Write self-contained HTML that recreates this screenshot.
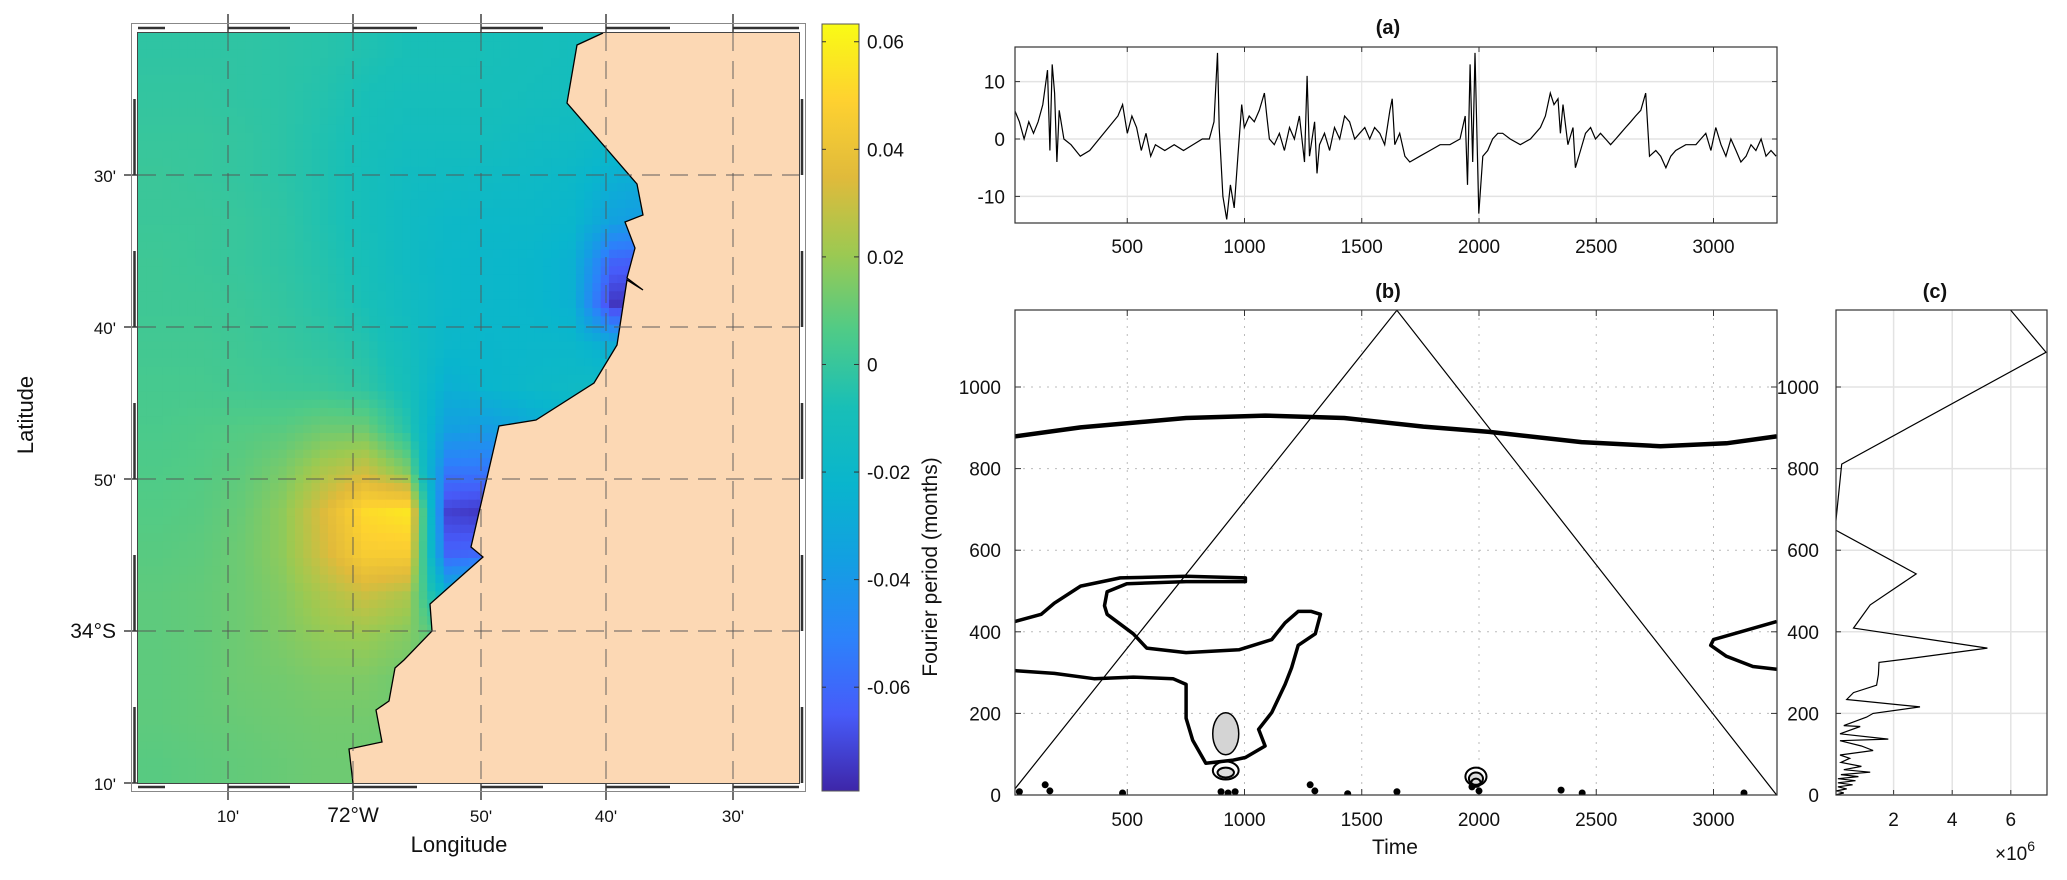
<!DOCTYPE html>
<html><head><meta charset="utf-8"><style>
html,body{margin:0;padding:0;background:#fff;}
svg{display:block;font-family:"Liberation Sans",sans-serif;}
</style></head><body>
<svg id="fig" width="2067" height="880" viewBox="0 0 2067 880" xmlns="http://www.w3.org/2000/svg">
<defs>
<clipPath id="mapclip"><rect x="138" y="33" width="661" height="750"/></clipPath>
<clipPath id="aclip"><rect x="1015" y="47" width="762" height="176"/></clipPath>
<clipPath id="bclip"><rect x="1015" y="310" width="762" height="485"/></clipPath>
<clipPath id="cclip"><rect x="1836" y="310" width="211" height="485"/></clipPath>
<linearGradient id="cbgrad" x1="0" y1="1" x2="0" y2="0"></linearGradient>
</defs>
<g id="map"></g>
<g id="cbar"></g>
<g id="pa"></g>
<g id="pb"></g>
<g id="pc"></g>
</svg>
<script>
// ---------- DATA ----------
const mapRows = [
[-2,-2,-2,-3,-4,-6,-8,-8,-9,-10,-11,-12,-12,0,0,0],
[-1,-1,-2,-3,-5,-8,-10,-10,-10,-11,-12,-14,-14,0,0,0],
[0,0,-1,-3,-6,-9,-12,-12,-12,-14,-15,-18,-18,0,0,0],
[1,0,-1,-3,-6,-10,-14,-15,-16,-17,-19,-26,-30,0,0,0],
[1,1,0,-2,-6,-10,-15,-18,-19,-19,-21,-35,-40,0,0,0],
[2,1,0,-2,-5,-9,-15,-19,-20,-21,-25,-62,-65,0,0,0],
[2,2,1,-1,-4,-8,-14,-19,-20,-21,-25,-75,-75,0,0,0],
[3,3,2,0,-2,-5,-12,-20,-21,-20,-20,-28,-28,0,0,0],
[4,4,3,2,1,-2,-10,-26,-22,-19,-17,-15,0,0,0,0],
[5,6,7,8,12,12,-4,-36,-38,-30,-25,0,0,0,0,0],
[6,7,9,14,24,30,15,-55,-55,-40,0,0,0,0,0,0],
[7,8,11,18,34,52,56,-72,-75,-60,0,0,0,0,0,0],
[8,9,12,18,32,46,46,-62,-60,0,0,0,0,0,0,0],
[9,10,12,16,24,30,24,-25,-10,0,0,0,0,0,0,0],
[9,10,12,15,19,20,16,5,0,0,0,0,0,0,0,0],
[9,10,12,13,15,15,12,8,0,0,0,0,0,0,0,0],
[9,10,11,12,13,13,12,10,0,0,0,0,0,0,0,0],
[8,9,10,11,12,12,10,8,0,0,0,0,0,0,0,0]];
const coastX = [603,577,567,637,643,625,635,627,643,627,617,594,536,499,471,483,466,430,432,404,395,389,376,382,349,353];
const coastY = [33,45,103,184,215,222,248,278,290,280,345,383,420,426,547,557,572,604,631,660,668,701,710,742,749,783];
const lonTicks = ["10'","72°W","50'","40'","30'"];
const latTicks = ["30'","40'","50'","34°S","10'"];
const cbTicks = [0.06,0.04,0.02,0,-0.02,-0.04,-0.06];
const cbLabels = ["0.06","0.04","0.02","0","-0.02","-0.04","-0.06"];
// Panel (a)
const tA = [0,20,40,60,80,100,120,140,160,170,180,190,200,210,230,260,300,340,380,420,460,480,500,520,540,560,580,600,620,660,700,740,780,820,850,870,885,892,908,924,940,956,972,988,999,1020,1042,1063,1085,1095,1106,1127,1149,1170,1192,1213,1234,1256,1267,1277,1299,1309,1320,1341,1363,1384,1406,1427,1448,1470,1491,1513,1534,1555,1577,1598,1620,1630,1641,1662,1684,1705,1748,1791,1834,1876,1919,1941,1951,1962,1973,1983,1999,2016,2037,2058,2080,2101,2133,2176,2219,2262,2283,2304,2320,2337,2347,2358,2379,2401,2411,2433,2454,2476,2497,2518,2540,2561,2583,2604,2625,2647,2668,2690,2711,2727,2754,2775,2797,2818,2839,2882,2925,2946,2967,2989,3010,3032,3053,3074,3096,3117,3139,3160,3181,3203,3224,3245,3267];
const vA = [0,5,3,0,3,1,3,6,12,-2,13,8,-4,5,0,-1,-3,-2,0,2,4,6,1,4,2,-2,1,-3,-1,-2,-1,-2,-1,0,0,3,15,2,-10,-14,-8,-12,-3,6,2,4,3,5,8,4,0,-1,1,-2,2,0,4,-4,11,-3,3,-6,-1,1,-2,2,0,4,3,0,1,2,0,2,1,-1,5,7,-1,1,-3,-4,-3,-2,-1,-1,0,4,-8,13,-4,15,-13,-3,-2,0,1,1,0,-1,0,2,4,8,6,7,1,6,-1,2,-5,-2,1,2,0,1,0,-1,0,1,2,3,4,5,8,-3,-2,-3,-5,-3,-2,-1,-1,0,1,-2,2,-1,-3,0,-2,-4,-3,-1,-2,0,-3,-2,-3];
const aXTicks = [500,1000,1500,2000,2500,3000];
const aYTicks = [10,0,-10];
// Panel (b)
const bXTicks = [500,1000,1500,2000,2500,3000];
const bYTicks = [0,200,400,600,800,1000];
const ridgeT = [20,301,751,1088,1425,1763,2044,2437,2774,3055,3269];
const ridgeP = [879,901,924,930,924,903,890,865,855,862,879];
const mainT = [20,133,189,301,470,751,1004,1004,751,498,414,403,414,526,583,751,976,1116,1173,1229,1285,1324,1302,1229,1201,1173,1116,1060,1088,1004,948,835,779,751,751,695,526,358,189,20];
const mainP = [425,443,470,512,532,536,532,523,523,518,498,464,443,395,360,349,356,381,422,450,450,443,395,367,312,271,202,161,120,92,85,78,134,188,271,285,289,285,298,305];
const rightT = [3269,3000,2988,3055,3168,3269];
const rightP = [425,381,367,340,315,308];
const blobT = [920];
const blobP = [150];
const ringT = [920,920,1987,1987,1987];
const ringP = [60,55,45,40,30];
const ringRt = [55,35,45,30,20];
const ringRp = [22,12,22,15,10];
const dotT = [40,150,170,480,900,930,960,1280,1300,1440,1650,1970,2000,2350,2440,3130];
const dotP = [8,25,10,5,8,5,8,25,10,3,8,20,10,12,5,5];
const coneT = [0,1650,3269];
const coneP = [0,1188,0];
// Panel (c)
const cPeriod = [1188,1085,811,650,542,466,409,360,333,325,295,269,251,234,216,200,191,170,168,150,137,133,120,109,98,90,80,70,62,56,50,45,40,35,30,25,20,15,10,5,0];
const cPower = [6.0,7.2,0.23,0,2.77,1.2,0.63,5.2,2.4,1.5,1.48,1.42,0.63,0.4,2.9,1.3,1.08,0.3,0.86,0.17,1.82,0.17,0.9,1.3,0.17,0.5,0.2,0.9,0.3,1.2,0.2,0.8,0.1,0.7,0.1,0.6,0.1,0.4,0.05,0.3,0];
const cXTicks = [2,4,6];
const cYTicks = [0,200,400,600,800,1000];

// ---------- HELPERS ----------
const NS="http://www.w3.org/2000/svg";
function mk(tag, parent, attrs){const e=document.createElementNS(NS,tag);for(const k in attrs)e.setAttribute(k,attrs[k]);parent.appendChild(e);return e;}
const par=[[0,[0.2422,0.1504,0.6603]],[0.1,[0.278,0.3556,0.9777]],[0.2,[0.1707,0.512,0.9795]],[0.3,[0.0759,0.6238,0.8846]],[0.4,[0.0356,0.7114,0.8045]],[0.5,[0.0956,0.7507,0.7178]],[0.6,[0.31,0.7945,0.53]],[0.7,[0.61,0.79,0.32]],[0.8,[0.88,0.73,0.23]],[0.9,[0.995,0.82,0.19]],[1,[0.9769,0.9839,0.0805]]];
function parula(t){t=Math.max(0,Math.min(1,t));for(let i=1;i<par.length;i++){if(t<=par[i][0]){const a=par[i-1],b=par[i];const f=(t-a[0])/(b[0]-a[0]);const c=a[1].map((v,k)=>Math.round(255*(v+(b[1][k]-v)*f)));return `rgb(${c[0]},${c[1]},${c[2]})`;}}return "rgb(249,251,20)";}
const CMIN=-0.0793, CMAX=0.0633;

// ---------- MAP ----------
const map=document.getElementById('map');
const MX0=138,MX1=799,MY0=33,MY1=783;
const cellG=mk('g',map,{'clip-path':'url(#mapclip)'});
const nr=mapRows.length,nc=mapRows[0].length;
const cw=(MX1-MX0)/nc,ch=(MY1-MY0)/nr;
const SUB=5;
function sample(fi,fj){
  fi=Math.max(0,Math.min(nc-1,fi));fj=Math.max(0,Math.min(nr-1,fj));
  const i0=Math.floor(fi),j0=Math.floor(fj),i1=Math.min(nc-1,i0+1),j1=Math.min(nr-1,j0+1);
  const a=fi-i0,b=fj-j0;
  return (mapRows[j0][i0]*(1-a)+mapRows[j0][i1]*a)*(1-b)+(mapRows[j1][i0]*(1-a)+mapRows[j1][i1]*a)*b;
}
const sw=cw/SUB, sh=ch/SUB;
for(let j=0;j<nr*SUB;j++){for(let i=0;i<nc*SUB;i++){
  const v=sample((i+0.5)/SUB-0.5,(j+0.5)/SUB-0.5);
  const r=mk('rect',cellG,{x:(MX0+i*sw).toFixed(1),y:(MY0+j*sh).toFixed(1),width:(sw+0.6).toFixed(1),height:(sh+0.6).toFixed(1),fill:parula((v/1000-CMIN)/(CMAX-CMIN))});
  
  
}}
let lp=`M${MX1},${MY0} `;coastX.forEach((x,i)=>lp+=`L${x},${coastY[i]} `);lp+=`L${MX1},${MY1} Z`;
const land=mk('path',map,{d:lp,fill:'#fcd8b4'});

let cp='';coastX.forEach((x,i)=>cp+=(i?'L':'M')+x+','+coastY[i]+' ');
const coast=mk('path',map,{d:cp,fill:'none',stroke:'#000','stroke-width':1.3});

const lonX=[228,353,481,606,733], latY=[175,327,479,631,783];
lonX.forEach((x,i)=>{
  const g=mk('line',map,{x1:x,y1:MY0,x2:x,y2:MY1,stroke:'#555','stroke-opacity':0.75,'stroke-width':1.2,'stroke-dasharray':'18 10'});
  
  mk('line',map,{x1:x,y1:14,x2:x,y2:33,stroke:'#222','stroke-width':1.3});
  mk('line',map,{x1:x,y1:783,x2:x,y2:800,stroke:'#222','stroke-width':1.3});
  const t=mk('text',map,{x:x,y:822,'text-anchor':'middle','font-size':i==1?21:17,fill:'#111'});t.textContent=lonTicks[i];
  
});
latY.forEach((y,i)=>{
  if(i<4){const g=mk('line',map,{x1:MX0,y1:y,x2:MX1+10,y2:y,stroke:'#555','stroke-opacity':0.75,'stroke-width':1.2,'stroke-dasharray':'18 10'});
  }
  mk('line',map,{x1:124,y1:y,x2:138,y2:y,stroke:'#222','stroke-width':1.3});
  const t=mk('text',map,{x:116,y:y+7,'text-anchor':'end','font-size':i==3?21:17,fill:'#111'});t.textContent=latTicks[i];
  
});
mk('rect',map,{x:131.5,y:23.5,width:674,height:768,fill:'none',stroke:'#888','stroke-width':1});
mk('rect',map,{x:137.5,y:32.5,width:662,height:751,fill:'none',stroke:'#444','stroke-width':1});
const segX=[138,165,228,290,353,417,481,543,606,670,733,799];
for(let k=0;k<segX.length-1;k++){ if(k%2==0){
  mk('line',map,{x1:segX[k],y1:28,x2:segX[k+1],y2:28,stroke:'#333','stroke-width':2.5});
  mk('line',map,{x1:segX[k],y1:787,x2:segX[k+1],y2:787,stroke:'#333','stroke-width':2.5});}}
const segY=[33,99,175,251,327,403,479,555,631,707,783];
for(let k=0;k<segY.length-1;k++){ if(k%2==1){
  mk('line',map,{x1:134.5,y1:segY[k],x2:134.5,y2:segY[k+1],stroke:'#333','stroke-width':2.5});
  mk('line',map,{x1:802,y1:segY[k],x2:802,y2:segY[k+1],stroke:'#333','stroke-width':2.5});}}
const xl=mk('text',map,{x:459,y:852,'text-anchor':'middle','font-size':22,fill:'#111'});xl.textContent='Longitude';

const yl=mk('text',map,{x:0,y:0,'text-anchor':'middle','font-size':22,fill:'#111',transform:'translate(33,415) rotate(-90)'});yl.textContent='Latitude';


// ---------- COLORBAR ----------
const cb=document.getElementById('cbar');
const grad=document.getElementById('cbgrad');
for(let k=0;k<=20;k++){mk('stop',grad,{offset:k/20,'stop-color':parula(k/20)});}
const CBX=822,CBW=37,CBY0=24,CBY1=791;
const cbs=v=>CBY1-(v-CMIN)/(CMAX-CMIN)*(CBY1-CBY0);
mk('rect',cb,{x:CBX,y:CBY0,width:CBW,height:CBY1-CBY0,fill:'url(#cbgrad)',stroke:'#555','stroke-width':1});
cbTicks.forEach((v,i)=>{const y=cbs(v);
  mk('line',cb,{x1:CBX+CBW-5,y1:y,x2:CBX+CBW,y2:y,stroke:'#333'});
  mk('line',cb,{x1:CBX,y1:y,x2:CBX+4,y2:y,stroke:'#333'});
  const t=mk('text',cb,{x:CBX+CBW+8,y:y+7,'font-size':19,fill:'#111'});t.textContent=cbLabels[i];
  });

// ---------- PANEL A ----------
const pa=document.getElementById('pa');
const AX0=1015,AX1=1777,AY0=47,AY1=223;
const axA=t=>1010+(t)*0.2345, ayA=v=>139-v*5.74;
aXTicks.forEach(t=>{const x=axA(t);mk('line',pa,{x1:x,y1:AY0,x2:x,y2:AY1,stroke:'#e3e3e3'});
  mk('line',pa,{x1:x,y1:AY0,x2:x,y2:AY0+5,stroke:'#333'});mk('line',pa,{x1:x,y1:AY1,x2:x,y2:AY1-5,stroke:'#333'});
  const tt=mk('text',pa,{x:x,y:253,'text-anchor':'middle','font-size':19,fill:'#111'});tt.textContent=t;
  });
aYTicks.forEach(v=>{const y=ayA(v);mk('line',pa,{x1:AX0,y1:y,x2:AX1,y2:y,stroke:'#e3e3e3','stroke-width':1.5});
  mk('line',pa,{x1:AX0,y1:y,x2:AX0+5,y2:y,stroke:'#333'});mk('line',pa,{x1:AX1,y1:y,x2:AX1-5,y2:y,stroke:'#333'});
  const tt=mk('text',pa,{x:1005,y:y+7,'text-anchor':'end','font-size':19,fill:'#111'});tt.textContent=v;
  });
let ap='';tA.forEach((t,i)=>ap+=(i?'L':'M')+axA(t).toFixed(1)+','+ayA(vA[i]).toFixed(1)+' ');
const aline=mk('path',pa,{d:ap,fill:'none',stroke:'#000','stroke-width':1.2,'clip-path':'url(#aclip)'});

mk('rect',pa,{x:AX0,y:AY0,width:AX1-AX0,height:AY1-AY0,fill:'none',stroke:'#333','stroke-width':1.2});
const at=mk('text',pa,{x:1388,y:34,'text-anchor':'middle','font-size':20,'font-weight':'bold',fill:'#111'});at.textContent='(a)';


// ---------- PANEL B ----------
const pb=document.getElementById('pb');
const BX0=1015,BX1=1777,BY0=310,BY1=795;
const bx=t=>1010+t*0.2345, by=p=>795-p*0.408;
bXTicks.forEach(t=>{const x=bx(t);mk('line',pb,{x1:x,y1:BY0,x2:x,y2:BY1,stroke:'#bbb','stroke-dasharray':'2 6'});
  mk('line',pb,{x1:x,y1:BY0,x2:x,y2:BY0+6,stroke:'#333'});mk('line',pb,{x1:x,y1:BY1,x2:x,y2:BY1-6,stroke:'#333'});
  const tt=mk('text',pb,{x:x,y:826,'text-anchor':'middle','font-size':19,fill:'#111'});tt.textContent=t;
  });
bYTicks.forEach(p=>{const y=by(p);mk('line',pb,{x1:BX0,y1:y,x2:BX1,y2:y,stroke:'#bbb','stroke-dasharray':'2 6'});
  mk('line',pb,{x1:BX0,y1:y,x2:BX0+6,y2:y,stroke:'#333'});mk('line',pb,{x1:BX1,y1:y,x2:BX1-6,y2:y,stroke:'#333'});
  const tt=mk('text',pb,{x:1001,y:y+7,'text-anchor':'end','font-size':19,fill:'#111'});tt.textContent=p;
  });
const bg=mk('g',pb,{'clip-path':'url(#bclip)'});
function poly(T,P,close){let d='';T.forEach((t,i)=>d+=(i?'L':'M')+bx(t).toFixed(1)+','+by(P[i]).toFixed(1)+' ');return d+(close?'Z':'');}
const ridge=mk('path',bg,{d:poly(ridgeT,ridgeP),fill:'none',stroke:'#000','stroke-width':4.5,'stroke-linejoin':'round'});

const mc=mk('path',bg,{d:poly(mainT,mainP),fill:'none',stroke:'#000','stroke-width':3.5,'stroke-linejoin':'round'});

const rc=mk('path',bg,{d:poly(rightT,rightP),fill:'none',stroke:'#000','stroke-width':3.5,'stroke-linejoin':'round'});

blobT.forEach((t,i)=>{const e=mk('ellipse',bg,{cx:bx(t),cy:by(blobP[i]),rx:13,ry:21,fill:'#d4d4d4',stroke:'#000','stroke-width':1.5});
  });
ringT.forEach((t,i)=>{const e=mk('ellipse',bg,{cx:bx(t),cy:by(ringP[i]),rx:ringRt[i]*0.2345,ry:ringRp[i]*0.408,fill:i%2?'#ddd':'none',stroke:'#000','stroke-width':2});
  });
dotT.forEach((t,i)=>{const e=mk('ellipse',bg,{cx:bx(t),cy:by(dotP[i]),rx:3.5,ry:3.5,fill:'#000'});
  });
const cone=mk('path',bg,{d:poly(coneT,coneP),fill:'none',stroke:'#000','stroke-width':1.2});

mk('rect',pb,{x:BX0,y:BY0,width:BX1-BX0,height:BY1-BY0,fill:'none',stroke:'#333','stroke-width':1.2});
const bt=mk('text',pb,{x:1388,y:298,'text-anchor':'middle','font-size':20,'font-weight':'bold',fill:'#111'});bt.textContent='(b)';

const bxl=mk('text',pb,{x:1395,y:854,'text-anchor':'middle','font-size':21,fill:'#111'});bxl.textContent='Time';

const byl=mk('text',pb,{x:0,y:0,'text-anchor':'middle','font-size':21,fill:'#111',transform:'translate(937,567) rotate(-90)'});byl.textContent='Fourier period (months)';


// ---------- PANEL C ----------
const pc=document.getElementById('pc');
const CX0=1836,CX1=2047;
const cx=v=>1835+v*29.3, cy=p=>795-p*0.408;
cXTicks.forEach(v=>{const x=cx(v);mk('line',pc,{x1:x,y1:BY0,x2:x,y2:BY1,stroke:'#e3e3e3','stroke-width':1.5});
  mk('line',pc,{x1:x,y1:BY1,x2:x,y2:BY1-5,stroke:'#333'});
  const tt=mk('text',pc,{x:x,y:826,'text-anchor':'middle','font-size':19,fill:'#111'});tt.textContent=v;
  });
cYTicks.forEach(p=>{const y=cy(p);mk('line',pc,{x1:CX0,y1:y,x2:CX1,y2:y,stroke:'#e3e3e3','stroke-width':1.5});
  mk('line',pc,{x1:CX0,y1:y,x2:CX0+5,y2:y,stroke:'#333'});
  const tt=mk('text',pc,{x:1819,y:y+7,'text-anchor':'end','font-size':19,fill:'#111'});tt.textContent=p;
  });
let sp='';cPeriod.forEach((p,i)=>sp+=(i?'L':'M')+cx(cPower[i]).toFixed(1)+','+cy(p).toFixed(1)+' ');
const sl=mk('path',pc,{d:sp,fill:'none',stroke:'#000','stroke-width':1.2,'clip-path':'url(#cclip)'});

mk('rect',pc,{x:CX0,y:BY0,width:CX1-CX0,height:BY1-BY0,fill:'none',stroke:'#333','stroke-width':1.2});
const ct=mk('text',pc,{x:1935,y:298,'text-anchor':'middle','font-size':20,'font-weight':'bold',fill:'#111'});ct.textContent='(c)';

const ex=mk('text',pc,{x:1995,y:860,'font-size':19,fill:'#111'});ex.innerHTML='×10<tspan dy="-9" font-size="14">6</tspan>';

</script>
</body></html>
